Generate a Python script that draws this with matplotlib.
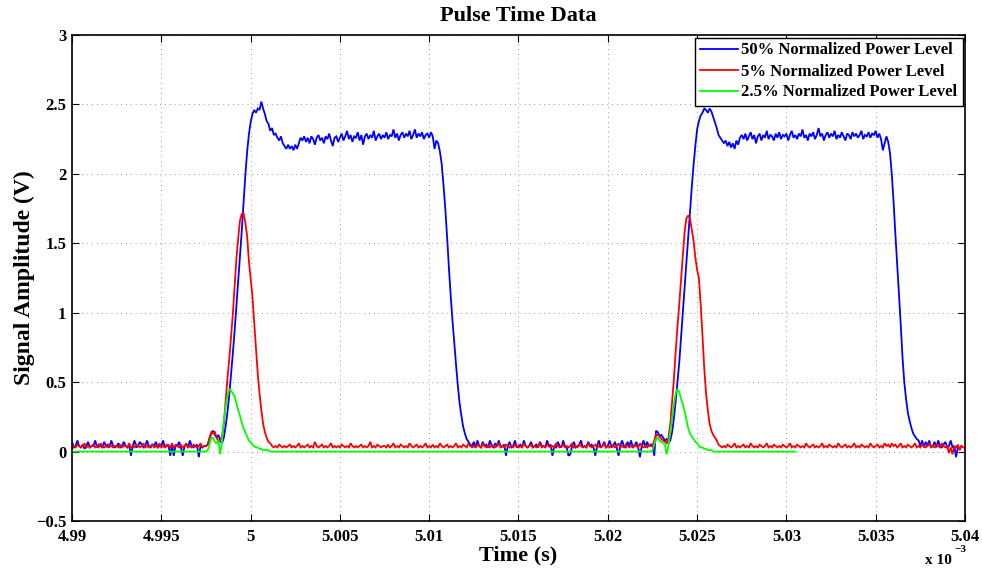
import numpy as np
import matplotlib
matplotlib.use("Agg")
import matplotlib.pyplot as plt

# Scope capture: one sample every 0.1 us, starting at 4.99 ms.
T_START_MS = 4.99
DT_MS = 1e-4
SCALE_V = 0.01   # samples below are stored in units of 10 mV

blue_50 = [
    7, 3, 4, 8, 4, 3, 5, 2, 4, 7, 3, 4, 4, 8, 3, 5, 4, 3, 7, 4, 5, 3, 8, 4, 3,
    4, 6, 3, 4, 7, 4, 3, 5, -3, 4, 8, 3, 4, 7, 5, 3, 4, 8, 4, 3, 5, 4, 7, 3, 4,
    4, 8, 3, 4, 5, -3, 4, -3, 5, 4, 7, 3, -3, 4, 5, 3, 8, 4, 3, 4, 5, -4, 4, 3, 4,
    4, 5, 9, 13, 15, 12, 10, 12, 8, 6, 10, 18, 28, 40, 55, 70, 86, 104, 122, 140, 158, 178, 198, 215, 228,
    237, 243, 246, 244, 247, 246, 252, 247, 243, 238, 236, 231, 233, 228, 229, 226, 224, 227, 222, 220, 218, 221, 218, 220, 217,
    221, 218, 222, 226, 224, 227, 223, 226, 222, 227, 225, 221, 226, 228, 224, 226, 222, 227, 225, 229, 224, 220, 226, 227, 223,
    226, 229, 224, 227, 231, 225, 228, 223, 227, 226, 230, 224, 228, 221, 227, 229, 225, 228, 226, 231, 224, 227, 229, 225, 228,
    226, 230, 225, 228, 227, 232, 226, 229, 224, 228, 230, 226, 229, 227, 231, 225, 228, 232, 226, 229, 227, 230, 225, 228, 229,
    226, 230, 227, 218, 224, 222, 216, 207, 192, 175, 155, 133, 113, 95, 79, 63, 48, 35, 26, 18, 13, 9, 7, 5, 4,
    7, 3, 8, 4, 3, 7, 4, 5, 3, 8, 4, 3, 6, 4, 8, 3, 4, 5, -3, 4, 7, 3, 4, 8, 3,
    4, 5, 3, 8, 4, 3, 4, 7, 3, 4, 5, 3, 7, 4, 4, 3, 8, 4, 5, -3, 4, 3, 7, 4, 3,
    8, 4, 3, -3, -2, 4, 7, 3, 4, 5, 8, 3, 4, 3, 7, 4, 5, 3, -3, 4, 8, 3, 4, 7, 3,
    4, 8, 3, 4, 7, 3, -3, 4, 8, 4, 3, 7, 4, 8, 3, 4, 7, 3, -4, 4, 8, 3, 7, 4, 5,
    5, -3, 15, 14, 11, 12, 10, 8, 9, 6, 8, 14, 24, 36, 50, 64, 82, 100, 118, 136, 155, 172, 190, 206, 220,
    232, 238, 242, 244, 247, 246, 244, 247, 245, 241, 237, 233, 228, 226, 224, 222, 224, 220, 223, 219, 222, 218, 224, 221, 226,
    228, 225, 229, 224, 227, 230, 225, 228, 222, 227, 229, 224, 228, 226, 231, 225, 228, 227, 224, 229, 226, 230, 225, 228, 227,
    229, 224, 228, 231, 226, 228, 225, 229, 227, 232, 226, 228, 224, 229, 227, 230, 225, 228, 233, 227, 229, 224, 228, 230, 226,
    229, 227, 231, 225, 228, 226, 230, 227, 224, 229, 228, 225, 230, 227, 229, 226, 228, 231, 225, 228, 227, 230, 226, 229, 228,
    231, 226, 229, 225, 217, 222, 227, 223, 215, 200, 180, 157, 136, 114, 92, 68, 50, 38, 28, 22, 17, 13, 11, 9, 8,
    4, 8, 3, 7, 4, 8, 3, 4, 7, 3, 8, 4, 3, 5, 7, 3, 4, 8, 3, 4, -4, 3, 2, 4,
]

red_5 = [
    3, 4, 3, 5, 4, 3, 4, 6, 3, 4, 3, 4, 5, 3, 4, 3, 6, 4, 3, 4, 3, 5, 4, 3, 4,
    4, 3, 5, 3, 4, 4, 3, 6, 3, 4, 3, 5, 4, 3, 4, 6, 3, 4, 3, 4, 5, 3, 4, 3, 6,
    3, 4, 3, 5, 4, 3, 6, 3, 4, 4, 3, 5, 3, 4, 6, 3, 4, 3, 5, 4, 3, 4, 6, 3, 4,
    4, 5, 10, 14, 13, 14, 10, 7, 8, 11, 20, 36, 52, 66, 82, 98, 118, 138, 153, 166, 171, 172, 165, 156, 138,
    125, 112, 93, 74, 56, 42, 30, 20, 14, 10, 7, 6, 4, 3, 4, 3, 5, 4, 3, 4, 3, 4, 5, 3, 4,
    3, 4, 6, 3, 4, 3, 4, 5, 3, 4, 3, 7, 4, 3, 4, 5, 3, 4, 3, 4, 6, 3, 4, 3, 4,
    3, 5, 4, 3, 4, 3, 6, 4, 3, 4, 3, 4, 5, 3, 4, 3, 4, 7, 3, 4, 3, 5, 4, 3, 4,
    4, 3, 5, 3, 4, 6, 3, 4, 3, 5, 4, 3, 4, 3, 6, 4, 3, 4, 5, 3, 4, 3, 4, 6, 3,
    4, 3, 5, 3, 4, 3, 6, 4, 3, 4, 5, 3, 4, 3, 4, 6, 3, 4, 3, 5, 4, 3, 6, 4, 3,
    4, 3, 5, 4, 3, 6, 4, 3, 4, 3, 5, 4, 3, 4, 6, 3, 4, 3, 5, 4, 3, 4, 3, 5, 4,
    3, 4, 3, 6, 4, 3, 4, 5, 3, 4, 3, 4, 6, 3, 4, 3, 5, 4, 3, 4, 3, 6, 4, 3, 4,
    5, 3, 4, 3, 4, 6, 3, 4, 3, 5, 4, 3, 4, 3, 6, 4, 3, 4, 5, 3, 4, 3, 4, 6, 3,
    4, 3, 5, 4, 3, 4, 6, 3, 4, 3, 5, 4, 3, 4, 3, 5, 4, 3, 6, 4, 3, 4, 3, 5, 4,
    4, 8, 12, 12, 11, 9, 8, 7, 6, 10, 20, 36, 52, 72, 90, 106, 124, 141, 158, 168, 170, 168, 160, 152, 140,
    131, 125, 106, 84, 60, 42, 30, 20, 15, 12, 10, 8, 5, 4, 3, 4, 3, 5, 4, 3, 4, 6, 3, 4, 3,
    4, 5, 3, 4, 3, 6, 4, 3, 4, 3, 5, 4, 3, 4, 6, 3, 4, 3, 5, 4, 3, 4, 3, 5, 4,
    3, 4, 6, 3, 4, 3, 5, 4, 3, 4, 3, 6, 4, 3, 4, 5, 3, 4, 3, 4, 6, 3, 4, 3, 5,
    4, 3, 4, 3, 6, 4, 3, 4, 5, 3, 4, 3, 4, 6, 3, 4, 3, 5, 4, 3, 4, 3, 6, 4, 3,
    4, 5, 3, 4, 3, 6, 4, 5, 3, 6, 4, 5, 3, 4, 6, 3, 4, 3, 5, 4, 3, 4, 6, 3, 4,
    3, 5, 4, 3, 4, 6, 3, 4, 3, 5, 4, 3, 6, 4, 3, 4, -1, 3, -2, 4, 3, 5, 1, 4, 3,
]

green_2p5 = (
    [0] * 75
    + [0, 1, 5, 10, 10, 7, 6, 8, -2, 8, 22, 32, 40, 45, 44, 42, 40, 35, 30, 26, 21, 17, 14, 11, 8,
       7, 5, 4, 3, 3, 2, 2, 1, 1, 1, 1]
    + [0] * 214
    + [1, 5, 9, 10, 8, 7, 6, 5, -2, 5, 14, 24, 34, 42, 45, 43, 38, 34, 29, 23, 17, 13, 11, 9, 7,
       6, 4, 3, 3, 2, 2, 1, 1, 1]
    + [0] * 47
)

series_values = [blue_50, red_5, green_2p5]
series_colors = ['#0000ff', '#ff0000', '#00ff00']
series_labels = ['50% Normalized Power Level',
                 '5% Normalized Power Level',
                 '2.5% Normalized Power Level']

x_ticks = [4.99, 4.995, 5.0, 5.005, 5.01, 5.015, 5.02, 5.025, 5.03, 5.035, 5.04]
x_tick_labels = ['4.99', '4.995', '5', '5.005', '5.01', '5.015', '5.02',
                 '5.025', '5.03', '5.035', '5.04']
y_ticks = [-0.5, 0, 0.5, 1, 1.5, 2, 2.5, 3]
y_tick_labels = ['\u22120.5', '0', '0.5', '1', '1.5', '2', '2.5', '3']

plt.rcParams['font.family'] = ['Liberation Serif', 'DejaVu Serif']
plt.rcParams['font.weight'] = 'bold'

fig = plt.figure(figsize=(9.82, 5.71), dpi=100)
ax = fig.add_axes([72 / 982, 50 / 571, 893 / 982, 486 / 571])

for vals, col, lab in zip(series_values, series_colors, series_labels):
    v = np.asarray(vals, dtype=float) * SCALE_V
    t = T_START_MS + DT_MS * np.arange(len(v))
    ax.plot(t, v, color=col, lw=1.3, label=lab, solid_joinstyle='miter')

ax.set_xlim(4.99, 5.04)
ax.set_ylim(-0.5, 3)
ax.set_xticks(x_ticks)
ax.set_xticklabels(x_tick_labels)
ax.set_yticks(y_ticks)
ax.set_yticklabels(y_tick_labels)
ax.tick_params(direction='in', length=5, width=0.8, top=True, right=True,
               labelsize=12)
ax.tick_params(axis='x', pad=6)
ax.tick_params(axis='y', pad=4)
for lbl in ax.get_xticklabels() + ax.get_yticklabels():
    lbl.set_fontweight('bold')

ax.grid(True, color='#9a9a9a', linestyle=(0, (1, 4)), linewidth=0.7)
for sp in ax.spines.values():
    sp.set_linewidth(1.2)
    sp.set_color('black')

ax.set_title('Pulse Time Data', fontsize=16, fontweight='bold', pad=10)
ax.set_xlabel('Time (s)', fontsize=16, fontweight='bold', labelpad=0)
ax.set_ylabel('Signal Amplitude (V)', fontsize=17, fontweight='bold')
ax.yaxis.set_label_coords(-0.041, 0.5)

fig.text(925 / 982, 1 - 561 / 571, 'x 10', fontsize=11, fontweight='bold',
         ha='left', va='center')
fig.text(954 / 982, 1 - 550 / 571, '\u22123', fontsize=8, fontweight='bold',
         ha='left', va='center')

leg = ax.legend(loc='upper right', bbox_to_anchor=(1.0, 1.0), borderaxespad=0.15,
                fancybox=False, edgecolor='black', framealpha=1,
                prop={'weight': 'bold', 'size': 12}, handlelength=2.3,
                handletextpad=0.2, labelspacing=0.3, borderpad=0.3)
leg.get_frame().set_linewidth(1.0)
for line in leg.get_lines():
    line.set_linewidth(1.3)

fig.savefig('out.png', dpi=100)
